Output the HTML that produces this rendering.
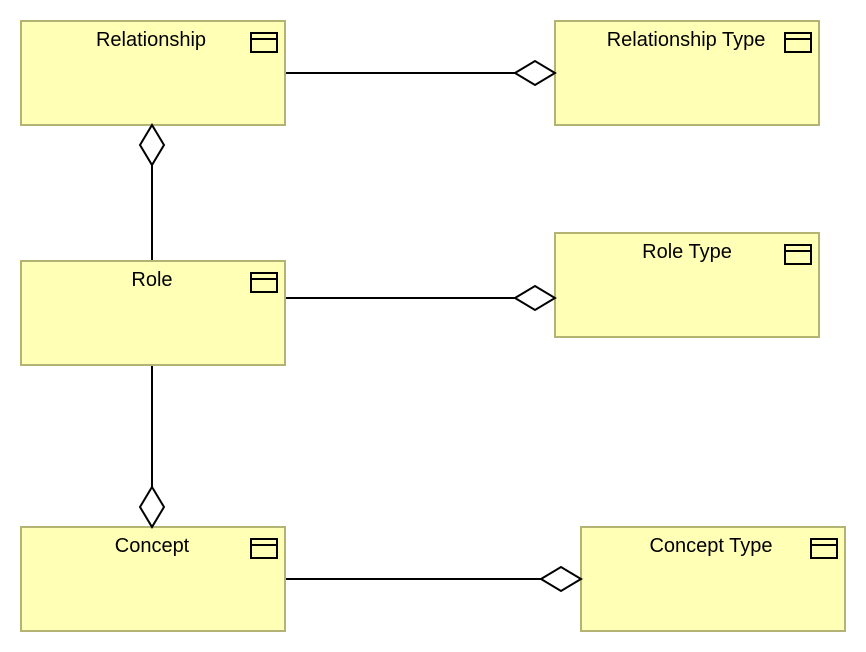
<!DOCTYPE html>
<html><head><meta charset="utf-8"><style>
html,body{margin:0;padding:0;background:#fff;}
svg{display:block;}
text{font-family:"Liberation Sans",sans-serif;font-size:20px;fill:#000;}
</style></head><body>
<svg width="866" height="652" viewBox="0 0 866 652" xmlns="http://www.w3.org/2000/svg">
<g fill="#ffffb5" stroke="#b3b374" stroke-width="2">
<rect x="21" y="21" width="264" height="104"/>
<rect x="555" y="21" width="264" height="104"/>
<rect x="21" y="261" width="264" height="104"/>
<rect x="555" y="233" width="264" height="104"/>
<rect x="21" y="527" width="264" height="104"/>
<rect x="581" y="527" width="264" height="104"/>
</g>
<g fill="none" stroke="#000" stroke-width="2">
<rect x="251" y="33" width="26" height="19"/><line x1="251" y1="39" x2="277" y2="39"/>
<rect x="785" y="33" width="26" height="19"/><line x1="785" y1="39" x2="811" y2="39"/>
<rect x="251" y="273" width="26" height="19"/><line x1="251" y1="279" x2="277" y2="279"/>
<rect x="785" y="245" width="26" height="19"/><line x1="785" y1="251" x2="811" y2="251"/>
<rect x="251" y="539" width="26" height="19"/><line x1="251" y1="545" x2="277" y2="545"/>
<rect x="811" y="539" width="26" height="19"/><line x1="811" y1="545" x2="837" y2="545"/>
<line x1="286" y1="73" x2="515" y2="73"/>
<line x1="286" y1="298" x2="515" y2="298"/>
<line x1="286" y1="579" x2="541" y2="579"/>
<line x1="152" y1="165" x2="152" y2="260"/>
<line x1="152" y1="366" x2="152" y2="487"/>
</g>
<g fill="#fff" stroke="#000" stroke-width="2" stroke-linejoin="miter">
<polygon points="515,73 535,61 555,73 535,85"/>
<polygon points="515,298 535,286 555,298 535,310"/>
<polygon points="541,579 561,567 581,579 561,591"/>
<polygon points="152,125 164,145 152,165 140,145"/>
<polygon points="152,487 164,507 152,527 140,507"/>
</g>
<g text-anchor="middle">
<text x="151" y="46">Relationship</text>
<text x="686" y="46">Relationship Type</text>
<text x="152" y="286">Role</text>
<text x="687" y="258">Role Type</text>
<text x="152" y="552">Concept</text>
<text x="711" y="552">Concept Type</text>
</g>
</svg>
</body></html>
